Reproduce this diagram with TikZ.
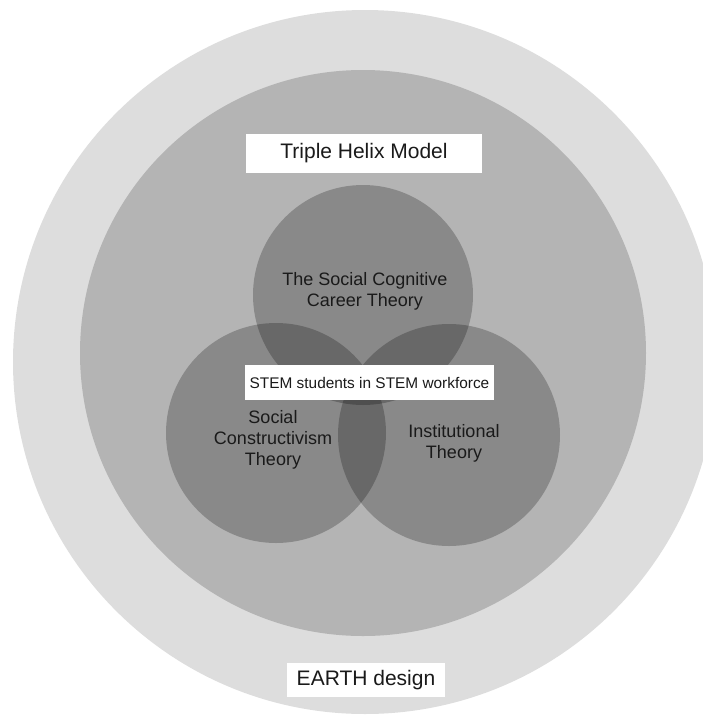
\documentclass[tikz,border=0pt]{standalone}
\usepackage{fontspec}
\setmainfont{Liberation Sans}
\definecolor{outerg}{HTML}{DDDDDD}
\definecolor{midg}{HTML}{B4B4B4}
\definecolor{txt}{HTML}{1A1A1A}
\begin{document}
\begin{tikzpicture}[x=1pt,y=-1pt,
  ring/.style={circle,inner sep=0pt,draw=none},
  theory/.style={ring,fill=black,fill opacity=0.235,minimum size=#1},
  lbl/.style={text=txt,align=center,font=\fontsize{18}{21}\selectfont},
  wbox/.style={fill=white,draw=none,text=txt,inner sep=0pt,minimum width=#1}
]
\useasboundingbox (0,0) rectangle (703,716);
\begin{scope}
\clip (0,0) rectangle (703,716);
\node[ring,fill=outerg,minimum size=704pt] (outer) at (365,362) {};
\node[ring,fill=midg,minimum size=566pt] (mid) at (363,353) {};
\node[theory=220pt] (top) at (363,295) {};
\node[theory=220pt] (left) at (276,433) {};
\node[theory=222pt] (right) at (449,435) {};
\end{scope}
\node[lbl] (sct) at (365,291) {The Social Cognitive\\Career Theory};
\node[lbl] (sc) at (273,440) {Social\\Constructivism\\Theory};
\node[lbl] (it) at (454,443.5) {Institutional\\Theory};
\node[wbox=236pt,minimum height=39pt,font=\fontsize{21}{25}\selectfont] (thm) at (364,153.5) {Triple Helix Model};
\node[wbox=249pt,minimum height=35pt,font=\fontsize{15.4}{18}\selectfont] (stem) at (369.5,382.5) {STEM students in STEM workforce};
\node[wbox=158pt,minimum height=34pt,font=\fontsize{21}{25}\selectfont] (earth) at (366,680) {EARTH design};
\end{tikzpicture}
\end{document}
